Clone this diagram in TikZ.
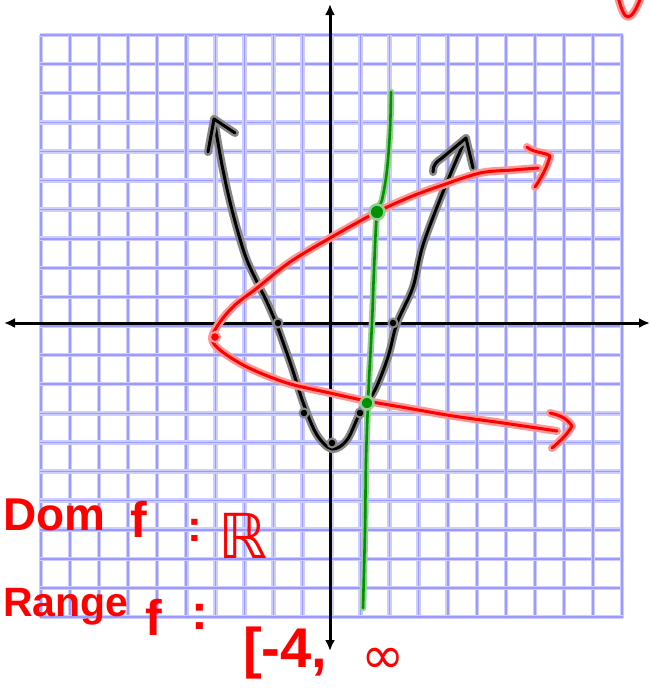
\documentclass[tikz,border=0pt]{standalone}
\usepackage{fontspec}
\setmainfont{Liberation Sans}
\newfontfamily\symfont{DejaVu Sans}
\usetikzlibrary{arrows.meta}
\definecolor{gridhalo}{RGB}{205,205,255}
\definecolor{gridcore}{RGB}{155,155,255}
\definecolor{inkred}{RGB}{255,0,0}
\definecolor{redhalo}{RGB}{255,150,150}
\definecolor{inkgreen}{RGB}{0,145,0}
\definecolor{greenhalo}{RGB}{150,205,150}
\definecolor{blackhalo}{RGB}{135,135,135}
\tikzset{
  gridline/.style={draw=gridcore, line width=1.6pt, preaction={draw=gridhalo, line width=4.5pt}},
  axisline/.style={draw=black, line width=3pt, {Latex[length=11pt,width=10pt]}-{Latex[length=11pt,width=10pt]}},
  blackink/.style={draw=black, line width=3pt, line cap=round, line join=round, preaction={draw=blackhalo, line width=8pt, line cap=round, line join=round}},
  redink/.style={draw=inkred, line width=3pt, line cap=round, line join=round, preaction={draw=redhalo, line width=8pt, line cap=round, line join=round}},
  greenink/.style={draw=inkgreen, line width=2.6pt, line cap=round, line join=round, preaction={draw=greenhalo, line width=6.5pt, line cap=round, line join=round}},
  blackdot/.style={fill=black, draw=blackhalo, line width=2pt},
  reddot/.style={fill=inkred, draw=redhalo, line width=2pt},
  greendot/.style={fill=inkgreen, draw=greenhalo, line width=2.5pt},
  redtext/.style={text=inkred, inner sep=0pt, anchor=base west}
}
\begin{document}
\begin{tikzpicture}[x=1pt,y=-1pt]
\useasboundingbox (0,0) rectangle (650,691);
% grid
\foreach \i in {0,...,20} {
  \draw[gridline] ({41+29.05*\i},35) -- ({41+29.05*\i},618);
  \draw[gridline] (40,{35+29.1*\i}) -- (623,{35+29.1*\i});
}
% axes
\coordinate (axL) at (4,323);
\coordinate (axR) at (650,323);
\coordinate (axT) at (330,4);
\coordinate (axB) at (330,651);
\draw[axisline] (axL) -- (axR);
\draw[axisline] (axT) -- (axB);
% black parabola
\draw[blackink] plot[smooth, tension=0.55] coordinates {(214,119) (222,165) (232,210) (245,255) (257,282) (266,300) (276,323) (284,345) (292,368) (304,405) (317,435) (332,449) (347,440) (360,413) (375,390) (388,357) (397,323) (413,287) (423,245) (445,187) (466,138)};
\draw[blackink] (208,152) -- (214,119) -- (235,133);
\draw[blackink] (433,172) .. controls (433,165) and (436,162) .. (442,158) -- (466,138) -- (473,168);
\foreach \p in {(278,323),(393,323),(304,413),(360,413),(332,443)} {
  \fill[blackdot] \p circle (4.5);
}
% red sideways parabola
\draw[redink] plot[smooth, tension=0.55] coordinates {(538,168) (513,170) (480,173) (440,186) (410,197) (375,213) (330,238) (290,262) (257,288) (235,305) (220,322) (212,338) (220,350) (247,367) (287,383) (330,393) (367,401) (407,408) (453,416) (503,423) (537,428) (557,431)};
\draw[redink] (527,147) .. controls (533,153) and (545,152) .. (550,156) .. controls (547,168) and (541,178) .. (535,187);
\draw[redink] (550,413) .. controls (558,415) and (566,417) .. (572,426) .. controls (567,435) and (559,442) .. (552,448);
\fill[reddot] (215,337) circle (5);
% red mark top right
\draw[redink] (618,-3) .. controls (621,8) and (624,17) .. (628,17) .. controls (632,17) and (637,8) .. (641,-3);
% green vertical line
\draw[greenink] plot[smooth, tension=0.55] coordinates {(391,92) (390,130) (387,170) (382,200) (377,213) (374,270) (372,323) (369,380) (368,403) (366,460) (365,530) (363,608)};
\fill[greendot] (377,212) circle (7.5);
\fill[greendot] (367,403) circle (6.5);
% texts
\node[redtext, font=\fontsize{46}{46}\selectfont\bfseries] (dom) at (3,530) {Dom};
\node[redtext, font=\fontsize{50}{50}\selectfont\bfseries] (domf) at (130,537) {f};
\node[redtext, font=\fontsize{44}{44}\selectfont\bfseries] (domcolon) at (187,541) {:};
\node[redtext, font=\fontsize{62}{62}\selectfont] (reals) at (218,558) {\symfont ℝ};
\node[redtext, font=\fontsize{41}{41}\selectfont\bfseries] (range) at (3,616) {Range};
\node[redtext, font=\fontsize{50}{50}\selectfont\bfseries] (rangef) at (145,635) {f};
\node[redtext, font=\fontsize{50}{50}\selectfont\bfseries] (rangecolon) at (191,629) {:};
\node[redtext, font=\fontsize{56}{56}\selectfont\bfseries] (rangeval) at (243,667) {[-4,};
\node[text=inkred, inner sep=0pt, font=\fontsize{52}{52}\selectfont] (infty) at (383,661) {\symfont ∞};
\end{tikzpicture}
\end{document}
